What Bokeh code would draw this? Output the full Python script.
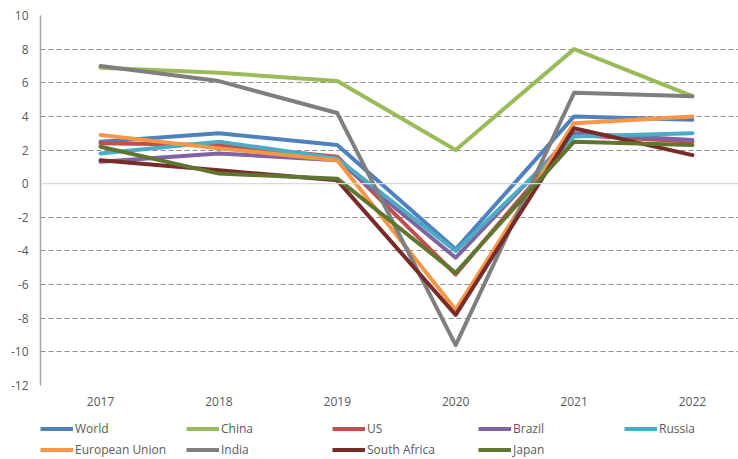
from bokeh.plotting import figure
from bokeh.models import FixedTicker, Span, Legend, LegendItem
from bokeh.layouts import column
from bokeh.embed import file_html
from bokeh.resources import INLINE

years = [2017, 2018, 2019, 2020, 2021, 2022]
world = [2.5, 3.0, 2.3, -3.9, 4.0, 3.8]
china = [6.9, 6.6, 6.1, 2.0, 8.0, 5.2]
us = [2.4, 2.3, 1.6, -5.4, 2.9, 2.5]
brazil = [1.3, 1.8, 1.4, -4.4, 3.0, 2.6]
russia = [1.8, 2.5, 1.5, -4.0, 2.8, 3.0]
eu = [2.9, 2.1, 1.4, -7.5, 3.6, 4.0]
india = [7.0, 6.1, 4.2, -9.6, 5.4, 5.2]
south_africa = [1.4, 0.8, 0.2, -7.8, 3.3, 1.7]
japan = [2.2, 0.6, 0.3, -5.3, 2.5, 2.3]

names = ["World", "China", "US", "Brazil", "Russia", "European Union", "India", "South Africa", "Japan"]
series = [world, china, us, brazil, russia, eu, india, south_africa, japan]
colors = ["#4F81BD", "#9BBB59", "#C0504D", "#8064A2", "#4BACC6", "#F79646", "#7F7F7F", "#772C2A", "#5F7530"]

y_ticks = [10, 8, 6, 4, 2, 0, -2, -4, -6, -8, -10, -12]
y_labels = ["10", "8", "6", "4", "2", "0", "-2", "-4", "-6", "-8", "-10", "-12"]

FONT = "Open Sans"
TXT = "#595959"

p = figure(width=738, height=412, output_backend="svg", toolbar_location=None,
           x_range=(2016.493, 2022.389), y_range=(-12, 10),
           min_border_left=40, min_border_right=0, min_border_top=15, min_border_bottom=27)
p.outline_line_color = None
p.background_fill_color = "white"
p.border_fill_color = "white"

yax = p.yaxis[0]
yax.ticker = FixedTicker(ticks=y_ticks)
yax.major_label_overrides = {t: l for t, l in zip(y_ticks, y_labels)}
yax.major_tick_line_color = None
yax.major_tick_out = 0
yax.major_tick_in = 0
yax.minor_tick_line_color = None
yax.axis_line_color = "#A6A6A6"
yax.axis_line_width = 1.5
yax.major_label_text_font = FONT
yax.major_label_text_font_size = "12px"
yax.major_label_text_color = TXT
yax.major_label_standoff = 12

xax = p.xaxis[0]
xax.ticker = FixedTicker(ticks=years)
xax.major_label_overrides = {y: str(y) for y in years}
xax.major_tick_line_color = None
xax.major_tick_out = 0
xax.major_tick_in = 0
xax.minor_tick_line_color = None
xax.axis_line_color = None
xax.major_label_text_font = FONT
xax.major_label_text_font_size = "12px"
xax.major_label_text_color = TXT
xax.major_label_standoff = 11

p.xgrid.grid_line_color = None
p.ygrid.ticker = FixedTicker(ticks=[t for t in y_ticks if t != 0])
p.ygrid.grid_line_color = "#8C8C8C"
p.ygrid.grid_line_width = 1.2
p.ygrid.grid_line_dash = "5 3"

p.add_layout(Span(location=0, dimension="width", line_color="#D9D9D9", line_width=1.2))

for name, vals, c in zip(names, series, colors):
    p.line(years, vals, line_color=c, line_width=4, line_join="round", line_cap="round")

# legend strip below the chart (its lines lie outside its view; only the legend shows)
lg = figure(width=738, height=47, output_backend="svg", toolbar_location=None,
            x_axis_location=None, y_axis_location=None,
            x_range=(0, 1), y_range=(0, 1),
            min_border_left=0, min_border_right=0, min_border_top=0, min_border_bottom=0)
lg.outline_line_color = None
lg.background_fill_color = "white"
lg.border_fill_color = "white"
for g in lg.grid:
    g.visible = False

items = []
for name, vals, c in zip(names, series, colors):
    r = lg.line(years, vals, line_color=c, line_width=4)
    items.append(LegendItem(label=name, renderers=[r]))

legend = Legend(items=items, orientation="horizontal", ncols=5,
                location=(0, -1), margin=0, padding=0, spacing=0,
                glyph_width=33, glyph_height=21, label_height=21, label_width=111,
                label_standoff=2, label_text_font=FONT, label_text_font_size="12px",
                label_text_color=TXT, border_line_color=None, background_fill_alpha=0)
lg.add_layout(legend)

layout = column(p, lg, spacing=0)
open("out.html", "w").write(file_html(layout, INLINE))
